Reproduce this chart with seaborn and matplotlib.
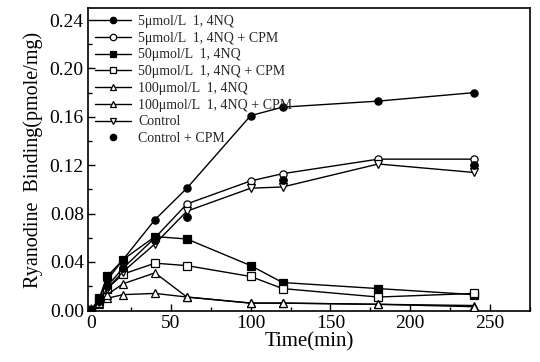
import numpy as np
import pandas as pd
import matplotlib
matplotlib.use("Agg")
import matplotlib.pyplot as plt
import seaborn as sns
from matplotlib.ticker import MultipleLocator, FormatStrFormatter

time = [0, 5, 10, 20, 40, 60, 100, 120, 180, 240]
nq5 = [0.0, 0.010, 0.025, 0.042, 0.075, 0.101, 0.161, 0.168, 0.173, 0.180]
nq5_cpm = [0.0, 0.008, 0.020, 0.035, 0.060, 0.088, 0.107, 0.113, 0.125, 0.125]
nq50 = [0.0, 0.010, 0.028, 0.042, 0.061, 0.059, 0.037, 0.023, 0.018, 0.013]
nq50_cpm = [0.0, 0.008, 0.018, 0.030, 0.039, 0.037, 0.028, 0.018, 0.011, 0.014]
nq100 = [0.0, 0.005, 0.010, 0.013, 0.014, 0.011, 0.006, 0.006, 0.005, 0.004]
nq100_cpm = [0.0, 0.006, 0.013, 0.022, 0.031, 0.011, 0.006, 0.006, 0.005, 0.003]
control = [0.0, 0.007, 0.018, 0.032, 0.055, 0.082, 0.101, 0.102, 0.121, 0.114]
control_cpm = [0.0, 0.008, 0.020, 0.035, 0.058, 0.077, np.nan, 0.108, np.nan, 0.120]

labels = ["5\u03bcmol/L  1, 4NQ", "5\u03bcmol/L  1, 4NQ + CPM",
          "50\u03bcmol/L  1, 4NQ", "50\u03bcmol/L  1, 4NQ + CPM",
          "100\u03bcmol/L  1, 4NQ", "100\u03bcmol/L  1, 4NQ + CPM",
          "Control", "Control + CPM"]
series = [nq5, nq5_cpm, nq50, nq50_cpm, nq100, nq100_cpm, control, control_cpm]
xticks = [0, 50, 100, 150, 200, 250]
yticks = [0.00, 0.04, 0.08, 0.12, 0.16, 0.20, 0.24]

sns.set_theme(style="ticks")
plt.rcParams['font.family'] = ['Liberation Serif', 'DejaVu Serif']

styles = [
    dict(marker='o', mfc='black'),
    dict(marker='o', mfc='white'),
    dict(marker='s', mfc='black'),
    dict(marker='s', mfc='white'),
    dict(marker='^', mfc='white'),
    dict(marker='^', mfc='white'),
    dict(marker='v', mfc='white'),
    dict(marker='o', mfc='black', ls='none'),
]

fig = plt.figure(figsize=(5.4, 3.62), dpi=100)
ax = fig.add_axes([0.163, 0.141, 0.818, 0.837])

handles = []
for lab, vals, st in zip(labels, series, styles):
    df = pd.DataFrame({"t": time, "v": vals}).dropna()
    ls = st.get('ls', '-')
    if ls == 'none':
        sns.scatterplot(data=df, x="t", y="v", ax=ax, marker=st['marker'],
                        color='black', s=30, edgecolor='black', linewidth=0.8, zorder=4)
    else:
        sns.lineplot(data=df, x="t", y="v", ax=ax, color='black', linewidth=1.0,
                     marker=st['marker'], markersize=5.2, markerfacecolor=st['mfc'],
                     markeredgecolor='black', markeredgewidth=0.9, zorder=3)
    h, = ax.plot([], [], color='black', linestyle=ls, linewidth=1.0,
                 marker=st['marker'], markersize=4.6, markerfacecolor=st['mfc'],
                 markeredgecolor='black', markeredgewidth=0.9)
    handles.append(h)

ax.set_xlim(-2, 275)
ax.set_ylim(-0.0005, 0.25)
ax.set_xticks(xticks)
ax.set_yticks(yticks)
ax.yaxis.set_major_formatter(FormatStrFormatter('%.2f'))
ax.xaxis.set_minor_locator(MultipleLocator(25))
ax.yaxis.set_minor_locator(MultipleLocator(0.02))
ax.tick_params(which='both', direction='in', color='black', labelsize=14,
               labelcolor='black')
ax.tick_params(axis='y', pad=3)
ax.tick_params(axis='x', pad=3)
ax.tick_params(which='major', length=5, width=1)
ax.tick_params(which='minor', length=3, width=1)
for sp in ax.spines.values():
    sp.set_color('black')
    sp.set_linewidth(1.2)
ax.set_xlabel("Time(min)", fontsize=15, color='black', labelpad=0)
ax.set_ylabel("Ryanodine  Binding(pmole/mg)", fontsize=14.5, color='black', labelpad=5)

ax.legend(handles, labels, loc='upper left', frameon=False, fontsize=10,
          handlelength=2.6, handletextpad=0.5, labelspacing=0.27,
          borderaxespad=0.1, bbox_to_anchor=(0.0, 1.0))

fig.savefig("out.png", dpi=100)
